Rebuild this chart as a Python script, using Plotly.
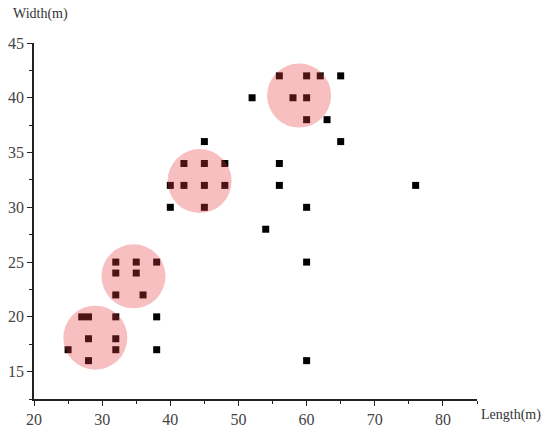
import plotly.graph_objects as go

# measured points (m)
length_m = [25, 27, 28, 28, 28, 32, 32, 32, 38, 38,
            32, 35, 38, 32, 35, 32, 36, 54,
            42, 45, 48, 40, 42, 45, 48, 45, 40, 45, 52,
            56, 60, 62, 65, 58, 60, 60, 63, 65, 56, 56, 76, 60, 60, 60]
width_m = [17, 20, 20, 18, 16, 20, 18, 17, 20, 17,
           25, 25, 25, 24, 24, 22, 22, 28,
           34, 34, 34, 32, 32, 32, 32, 36, 30, 30, 40,
           42, 42, 42, 42, 40, 40, 38, 38, 36, 34, 32, 32, 30, 25, 16]

# cluster centres (highlight circles)
cluster_x = [29.0, 34.6, 44.3, 58.9]
cluster_y = [18.1, 23.7, 32.4, 40.2]

serif = "Liberation Serif, DejaVu Serif, serif"

fig = go.Figure()
fig.add_trace(go.Scatter(
    x=length_m, y=width_m, mode='markers',
    marker=dict(symbol='square', size=7, color='black', line=dict(width=0)),
    showlegend=False, hoverinfo='x+y'
))
fig.add_trace(go.Scatter(
    x=cluster_x, y=cluster_y, mode='markers',
    marker=dict(symbol='circle', size=64, color='rgb(232,62,62)', opacity=0.33,
                line=dict(width=0)),
    showlegend=False, hoverinfo='skip'
))

axis_common = dict(
    showgrid=False, zeroline=False, showline=True, linecolor='#222', linewidth=1.5,
    ticks='outside', ticklen=5, tickwidth=1.2, tickcolor='#222', automargin=False,
    tickfont=dict(family=serif, size=16, color='#444'),
)

fig.update_layout(
    width=550, height=432,
    plot_bgcolor='white', paper_bgcolor='white',
    margin=dict(l=34, r=73, t=43, b=33),
    xaxis=dict(range=[20, 85], dtick=10, tick0=20,
               minor=dict(ticks='outside', ticklen=3, tickwidth=1, tickcolor='#222',
                          dtick=5, showgrid=False),
               **axis_common),
    yaxis=dict(range=[12.5, 45], dtick=5, tick0=15,
               minor=dict(ticks='outside', ticklen=3, tickwidth=1, tickcolor='#222',
                          dtick=2.5, tick0=12.5, showgrid=False),
               **axis_common),
    annotations=[
        dict(text='Width(m)', xref='paper', yref='paper', x=0, y=1.0,
             xshift=-23, yshift=29, xanchor='left', yanchor='middle', showarrow=False,
             font=dict(family=serif, size=14, color='#333')),
        dict(text='Length(m)', xref='paper', yref='paper', x=1.0, y=0.0,
             xshift=2, yshift=-16, xanchor='left', yanchor='middle', showarrow=False,
             font=dict(family=serif, size=14, color='#333')),
    ],
)

fig.write_html("out.html", config={'displayModeBar': False},
               post_script="document.body.style.margin='0px';")
